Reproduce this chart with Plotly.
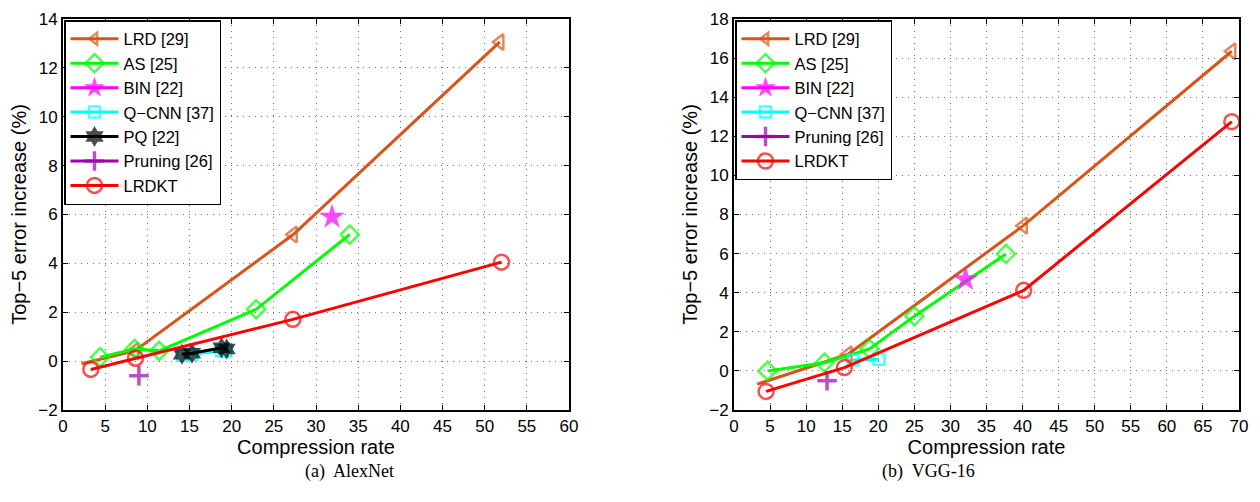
import plotly.graph_objects as go

# ---------------- AlexNet data ----------------
a_lrd_x = [2.2, 8.5, 27.3, 51.8]
a_lrd_y = [-0.11, 0.42, 5.18, 13.06]
a_as_x = [4.4, 8.5, 11.4, 22.9, 34.0]
a_as_y = [0.16, 0.5, 0.42, 2.12, 5.18]
a_bin_x = [31.9]
a_bin_y = [5.9]
a_qcnn_x = [14.2, 15.2, 18.8, 19.3]
a_qcnn_y = [0.24, 0.28, 0.42, 0.4]
a_pq_x = [14.1, 15.3, 18.8, 19.4]
a_pq_y = [0.28, 0.32, 0.55, 0.5]
a_prun_x = [9.0]
a_prun_y = [-0.6]
a_lrdkt_x = [3.3, 8.6, 27.25, 52.0]
a_lrdkt_y = [-0.34, 0.12, 1.71, 4.05]

# ---------------- VGG-16 data ----------------
v_lrd_x = [3.2, 15.8, 40.1, 69.0]
v_lrd_y = [-0.68, 0.85, 7.43, 16.35]
v_as_x = [4.65, 12.55, 18.8, 25.0, 37.7]
v_as_y = [0.0, 0.42, 1.12, 2.8, 5.98]
v_bin_x = [32.1]
v_bin_y = [4.68]
v_qcnn_x = [16.5, 20.1]
v_qcnn_y = [0.56, 0.6]
v_prun_x = [12.9]
v_prun_y = [-0.5]
v_lrdkt_x = [4.45, 15.3, 40.15, 69.0]
v_lrdkt_y = [-1.05, 0.17, 4.12, 12.75]

a_xticks = list(range(0, 61, 5))
a_yticks = list(range(-2, 15, 2))
v_xticks = list(range(0, 71, 5))
v_yticks = list(range(-2, 19, 2))

C_LRD = "#D9541A"
C_AS = "#00FF00"
C_BIN = "#FF00FF"
C_QCNN = "#00FFFF"
C_PQ = "#000000"
C_PRUN = "#A000B0"
C_LRDKT = "#FF0000"

FONT = "Liberation Sans, Arial, Helvetica, sans-serif"
SERIF = "Liberation Serif, Times New Roman, serif"

fig = go.Figure()


def add(x, y, name, color, symbol, size, xa, ya, leg, mode="lines+markers", hide_first=False, lw=3, mlw=2.5):
    sizes = [size] * len(x)
    if hide_first:
        sizes[0] = 0
    fig.add_trace(go.Scatter(
        x=x, y=y, name=name, mode=mode, xaxis=xa, yaxis=ya, legend=leg,
        line=dict(color=color, width=lw),
        marker=dict(symbol=symbol, size=sizes, color=color,
                    line=dict(color=color, width=mlw)),
    ))


# AlexNet traces
add(a_lrd_x, a_lrd_y, "LRD [29]", C_LRD, "triangle-left-open", 14, "x", "y", "legend", hide_first=True)
add(a_as_x, a_as_y, "AS [25]", C_AS, "diamond-open", 14, "x", "y", "legend")
add(a_bin_x, a_bin_y, "BIN [22]", C_BIN, "star", 19, "x", "y", "legend", mlw=0)
add(a_qcnn_x, a_qcnn_y, "Q\u2212CNN [37]", C_QCNN, "square-open", 11, "x", "y", "legend")
add(a_pq_x, a_pq_y, "PQ [22]", C_PQ, "hexagram", 16, "x", "y", "legend", mlw=0)
add(a_prun_x, a_prun_y, "Pruning [26]", C_PRUN, "cross-thin-open", 14, "x", "y", "legend", mlw=3.5)
add(a_lrdkt_x, a_lrdkt_y, "LRDKT", C_LRDKT, "circle-open", 15, "x", "y", "legend")

# VGG-16 traces
add(v_lrd_x, v_lrd_y, "LRD [29]", C_LRD, "triangle-left-open", 14, "x2", "y2", "legend2", hide_first=True)
add(v_as_x, v_as_y, "AS [25]", C_AS, "diamond-open", 14, "x2", "y2", "legend2")
add(v_bin_x, v_bin_y, "BIN [22]", C_BIN, "star", 19, "x2", "y2", "legend2", mlw=0)
add(v_qcnn_x, v_qcnn_y, "Q\u2212CNN [37]", C_QCNN, "square-open", 11, "x2", "y2", "legend2")
add(v_prun_x, v_prun_y, "Pruning [26]", C_PRUN, "cross-thin-open", 14, "x2", "y2", "legend2", mlw=3.5)
add(v_lrdkt_x, v_lrdkt_y, "LRDKT", C_LRDKT, "circle-open", 15, "x2", "y2", "legend2")

# page body has an 8px margin -> figure sits at (8, 8)
OFF = 8
W, H = 1260 - OFF, 502 - OFF


def px(X):
    return (X - OFF) / W


def py(Y):
    return 1 - (Y - OFF) / H


ybot, ytop = py(410), py(19)
a_dom = [px(63), px(569)]
v_dom = [px(734), px(1239)]

ax_common = dict(
    showline=True, linecolor="black", linewidth=2, mirror="ticks",
    ticks="inside", ticklen=5, tickwidth=1, tickcolor="black",
    showgrid=True, gridcolor="#707070", griddash="1px,5px", gridwidth=1,
    zeroline=False, tickfont=dict(family=FONT, size=17, color="black"),
    automargin=False, ticklabeloverflow="allow",
)

leg_common = dict(xanchor="left", yanchor="top",
                  bgcolor="white", bordercolor="black", borderwidth=1.5,
                  font=dict(family=FONT, size=16.5), tracegroupgap=0,
                  itemsizing="trace", itemwidth=48)

fig.update_layout(
    width=W, height=H, margin=dict(l=0, r=0, t=0, b=0, autoexpand=False),
    paper_bgcolor="white", plot_bgcolor="white",
    font=dict(family=FONT, color="black"),
    xaxis=dict(domain=a_dom, range=[0, 60], tickvals=a_xticks, anchor="y",
               title=dict(text="Compression rate", font=dict(size=20), standoff=4), **ax_common),
    yaxis=dict(domain=[ybot, ytop], range=[-2, 14], tickvals=a_yticks, anchor="x",
               title=dict(text="Top\u22125 error increase (%)", font=dict(size=20), standoff=6), **ax_common),
    xaxis2=dict(domain=v_dom, range=[0, 70], tickvals=v_xticks, anchor="y2",
                title=dict(text="Compression rate", font=dict(size=20), standoff=4), **ax_common),
    yaxis2=dict(domain=[ybot, ytop], range=[-2, 18], tickvals=v_yticks, anchor="x2",
                title=dict(text="Top\u22125 error increase (%)", font=dict(size=20), standoff=6), **ax_common),
    legend=dict(x=a_dom[0] + 1 / W, y=ytop - 1 / H, **leg_common),
    legend2=dict(x=v_dom[0] + 1 / W, y=ytop - 1 / H, **leg_common),
    showlegend=True,
    annotations=[
        dict(text="(a)  AlexNet", x=px(303), y=py(484), xref="paper", yref="paper",
             showarrow=False, font=dict(family=SERIF, size=18)),
        dict(text="(b)  VGG-16", x=px(977), y=py(484), xref="paper", yref="paper",
             showarrow=False, font=dict(family=SERIF, size=18)),
    ],
)

fig.write_html("out.html")
